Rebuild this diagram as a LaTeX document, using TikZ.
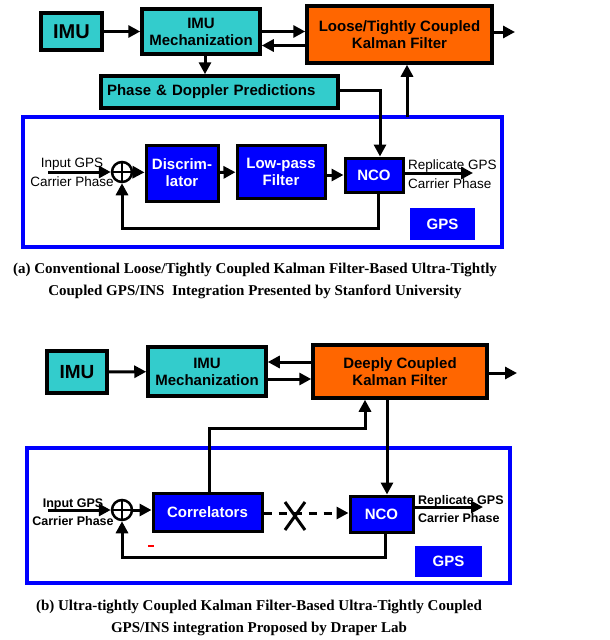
\documentclass[tikz,border=0pt]{standalone}
\usepackage{fontspec}
\setmainfont{Liberation Serif}
\setsansfont{Liberation Sans}
\usetikzlibrary{arrows.meta}

\definecolor{imuteal}{HTML}{33CCCC}
\definecolor{kforange}{HTML}{FF6600}
\definecolor{gpsblue}{HTML}{0000FF}

\begin{document}
\begin{tikzpicture}[
    x=1pt, y=-1pt,
    every node/.style={
        inner sep=0pt,
        align=center,
        font=\sffamily\bfseries\fontsize{15}{17}\selectfont
    },
    tealbox/.style={draw, line width=3.5pt, fill=imuteal},
    orangebox/.style={draw, line width=3.5pt, fill=kforange},
    bluebox/.style={draw, line width=3pt, fill=gpsblue, text=white},
    loopframe/.style={draw=gpsblue, line width=3.5pt},
    gpstag/.style={fill=gpsblue, text=white},
    sumnode/.style={draw, circle, line width=2.5pt, minimum size=20pt},
    arrow/.style={-{Triangle[length=12pt,width=12pt]}, line width=3pt},
    sidetext/.style={font=\sffamily\fontsize{13.5}{19}\selectfont},
    sidebold/.style={font=\sffamily\bfseries\fontsize{12.5}{18}\selectfont},
    caption/.style={font=\rmfamily\bfseries\fontsize{15}{22}\selectfont}
]

\useasboundingbox[fill=white] (0,0) rectangle (610,640);

% (a) Stanford
\node (frameA) [loopframe, minimum width=479pt, minimum height=130pt] at (262.5,182) {};

\node (imuA) [tealbox, minimum width=61pt, minimum height=37pt,
    font=\sffamily\bfseries\fontsize{20}{22}\selectfont] at (71.5,31.5) {IMU};
\node (mechA) [tealbox, minimum width=118pt, minimum height=45pt] at (201,31.5)
    {IMU\\Mechanization};
\node (kfA) [orangebox, minimum width=185pt, minimum height=57pt] at (399.5,34.5)
    {Loose/Tightly Coupled\\Kalman Filter};
\node (predA) [tealbox, text width=225pt, inner xsep=6pt, align=left,
    minimum height=32pt] at (219.5,92) {Phase \& Doppler Predictions};

\node (sumA) [sumnode] at (122,172) {};
\node (discA) [bluebox, minimum width=72pt, minimum height=56pt] at (182,173)
    {Discrim-\\lator};
\node (lpfA) [bluebox, minimum width=88pt, minimum height=53pt] at (281,171.5)
    {Low-pass\\Filter};
\node (ncoA) [bluebox, minimum width=58pt, minimum height=34pt] at (374,175) {NCO};
\node (gpsA) [gpstag, minimum width=65pt, minimum height=32pt] at (442.5,224) {GPS};

\node (inA) [sidetext] at (72,172) {Input GPS\\Carrier Phase};
\node (repA) [sidetext, anchor=west, align=left] at (408,174)
    {Replicate GPS\\Carrier Phase};

\coordinate (inputA) at (48,172);
\coordinate (replA) at (473,173);
\coordinate (kfoutA) at (515,32);
\coordinate (gpsupA) at (407,117);

\draw[arrow] (imuA) -- (mechA);
\draw[arrow] (mechA.east) -- (mechA.east -| kfA.west);
\draw[arrow] ([yshift=-14pt]kfA.west |- mechA.east) -- ([yshift=-14pt]mechA.east);
\draw[arrow] (kfoutA -| kfA.east) -- (kfoutA);
\draw[arrow] ([xshift=4pt]mechA.south) -- ([xshift=4pt]mechA.south |- predA.north);
\draw[arrow] ([yshift=2pt]predA.east) -| ([xshift=6pt]ncoA.north);
\draw[arrow] (gpsupA) -- (gpsupA |- kfA.south);

\draw[arrow] (inputA) -- (sumA.west);
\draw[line width=2.5pt] (sumA.north) -- (sumA.south) (sumA.west) -- (sumA.east);
\draw[arrow] (sumA) -- (discA);
\draw[arrow] (discA) -- (lpfA);
\draw[arrow] (lpfA.east |- ncoA.west) -- (ncoA.west);
\draw[arrow] ([yshift=2pt]ncoA.east) -- (replA);
\draw[arrow] ([xshift=4pt]ncoA.south) -- ++(0,35) -| (sumA.south);

\node (capA) [caption] at (255,281)
    {(a) Conventional Loose/Tightly Coupled Kalman Filter-Based Ultra-Tightly\\
     Coupled GPS/INS\ \ Integration Presented by Stanford University};

% (b) Draper Lab
\node (frameB) [loopframe, minimum width=483pt, minimum height=135pt] at (268.5,515.5) {};

\node (imuB) [tealbox, minimum width=60pt, minimum height=42pt,
    font=\sffamily\bfseries\fontsize{19}{21}\selectfont] at (77,372) {IMU};
\node (mechB) [tealbox, minimum width=118pt, minimum height=49pt] at (207,371.5)
    {IMU\\Mechanization};
\node (kfB) [orangebox, minimum width=174pt, minimum height=53pt] at (400,371.5)
    {Deeply Coupled\\Kalman Filter};

\node (sumB) [sumnode] at (122,510) {};
\node (corrB) [bluebox, minimum width=109pt, minimum height=38pt] at (207.5,512)
    {Correlators};
\node (ncoB) [bluebox, minimum width=63pt, minimum height=36pt] at (381.5,514) {NCO};
\node (gpsB) [gpstag, minimum width=67pt, minimum height=31pt] at (448.5,561.5) {GPS};
\node (minusB) [fill=red, minimum width=6pt, minimum height=2.5pt] at (151,546) {};

\node (inB) [sidebold] at (73,512) {Input GPS\\Carrier Phase};
\node (repB) [sidebold, anchor=west, align=left] at (418,509)
    {Replicate GPS\\Carrier Phase};

\coordinate (inputB) at (48,510);
\coordinate (replB) at (483,507);
\coordinate (kfoutB) at (517,373);
\coordinate (bendB) at (365,428);
\coordinate (crossB) at (295,516);

\draw[arrow] (imuB) -- (mechB);
\draw[arrow] ([yshift=9.5pt]kfB.west) -- ([yshift=9.5pt]kfB.west -| mechB.east);
\draw[arrow] ([yshift=-7.5pt]mechB.east) -- ([yshift=-7.5pt]mechB.east -| kfB.west);
\draw[arrow] (kfoutB -| kfB.east) -- (kfoutB);
\draw[arrow] ([xshift=1.5pt]corrB.north) |- (bendB) -- (bendB |- kfB.south);
\draw[arrow] ([xshift=-13pt]kfB.south) -- ([xshift=-13pt]kfB.south |- ncoB.north);

\draw[arrow] (inputB) -- (sumB.west);
\draw[line width=2.5pt] (sumB.north) -- (sumB.south) (sumB.west) -- (sumB.east);
\draw[arrow] (sumB) -- (corrB.west |- sumB);
\draw[arrow, dash pattern=on 8pt off 7pt] ([yshift=-1pt]corrB.east) -- ([yshift=-1pt]corrB.east -| ncoB.west);
\draw[line width=3pt] ([shift={(-10,-14)}]crossB) -- ([shift={(10,14)}]crossB)
    ([shift={(10,-14)}]crossB) -- ([shift={(-10,14)}]crossB);
\draw[arrow] ([yshift=7pt]ncoB.east) -- (replB);
\draw[arrow] ([xshift=3.5pt]ncoB.south) -- ++(0,24) -| (sumB.south);

\node (capB) [caption] at (259,617.5)
    {(b) Ultra-tightly Coupled Kalman Filter-Based Ultra-Tightly Coupled\\
     GPS/INS integration Proposed by Draper Lab};

\end{tikzpicture}
\end{document}
